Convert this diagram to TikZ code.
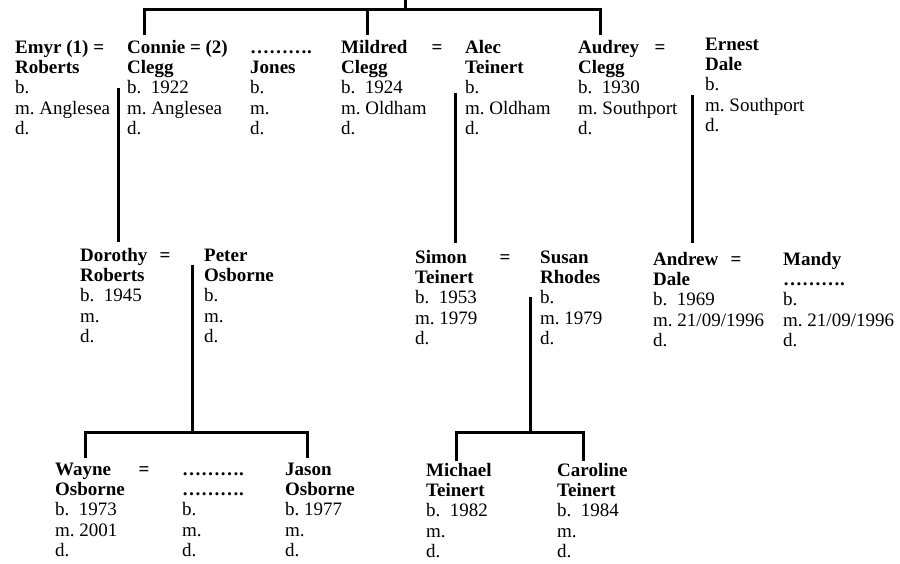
\documentclass[tikz,border=0pt]{standalone}
\usepackage{fontspec}
\setmainfont{Liberation Serif}
\frenchspacing
\newcommand{\persontab}[1]{\begin{tabular}[t]{@{}l@{}}#1\end{tabular}}

\begin{document}
\begin{tikzpicture}[x=1pt, y=-1pt,
    person/.style={anchor=base west, inner sep=0pt, font=\fontsize{19}{20.4}\selectfont},
    wed/.style={anchor=base, inner sep=0pt, font=\fontsize{19}{20.4}\selectfont\bfseries},
    link/.style={line width=3pt}]
    \useasboundingbox (0,0) rectangle (900,563);

    % first generation
    \node[person] (emyr) at (15,53) {\persontab{\textbf{Emyr (1) =}\\\textbf{Roberts}\\b.\\m. Anglesea\\d.}};
    \node[person] (connie) at (127,53) {\persontab{\textbf{Connie = (2)}\\\textbf{Clegg}\\b.\ \ 1922\\m. Anglesea\\d.}};
    \node[person] (jones) at (250,53) {\persontab{\textbf{……….}\\\textbf{Jones}\\b.\\m.\\d.}};
    \node[person] (mildred) at (341,53) {\persontab{\textbf{Mildred}\\\textbf{Clegg}\\b.\ \ 1924\\m. Oldham\\d.}};
    \node[wed] (eqmildred) at (437,53) {=};
    \node[person] (alec) at (465,53) {\persontab{\textbf{Alec}\\\textbf{Teinert}\\b.\\m. Oldham\\d.}};
    \node[person] (audrey) at (578,53) {\persontab{\textbf{Audrey}\\\textbf{Clegg}\\b.\ \ 1930\\m. Southport\\d.}};
    \node[wed] (eqaudrey) at (660,53) {=};
    \node[person] (ernest) at (705,50) {\persontab{\textbf{Ernest}\\\textbf{Dale}\\b.\\m. Southport\\d.}};

    % second generation
    \node[person] (dorothy) at (80,261) {\persontab{\textbf{Dorothy}\\\textbf{Roberts}\\b.\ \ 1945\\m.\\d.}};
    \node[wed] (eqdorothy) at (165,261) {=};
    \node[person] (peter) at (204,261) {\persontab{\textbf{Peter}\\\textbf{Osborne}\\b.\\m.\\d.}};
    \node[person] (simon) at (415,263) {\persontab{\textbf{Simon}\\\textbf{Teinert}\\b.\ \ 1953\\m. 1979\\d.}};
    \node[wed] (eqsimon) at (505,263) {=};
    \node[person] (susan) at (540,263) {\persontab{\textbf{Susan}\\\textbf{Rhodes}\\b.\\m. 1979\\d.}};
    \node[person] (andrew) at (653,265) {\persontab{\textbf{Andrew}\\\textbf{Dale}\\b.\ \ 1969\\m. 21/09/1996\\d.}};
    \node[wed] (eqandrew) at (736,265) {=};
    \node[person] (mandy) at (783,265) {\persontab{\textbf{Mandy}\\\textbf{……….}\\b.\\m. 21/09/1996\\d.}};

    % third generation
    \node[person] (wayne) at (55,475) {\persontab{\textbf{Wayne}\\\textbf{Osborne}\\b.\ \ 1973\\m. 2001\\d.}};
    \node[wed] (eqwayne) at (144,475) {=};
    \node[person] (waynewife) at (182,475) {\persontab{\textbf{……….}\\\textbf{……….}\\b.\\m.\\d.}};
    \node[person] (jason) at (285,475) {\persontab{\textbf{Jason}\\\textbf{Osborne}\\b. 1977\\m.\\d.}};
    \node[person] (michael) at (426,476) {\persontab{\textbf{Michael}\\\textbf{Teinert}\\b.\ \ 1982\\m.\\d.}};
    \node[person] (caroline) at (557,476) {\persontab{\textbf{Caroline}\\\textbf{Teinert}\\b.\ \ 1984\\m.\\d.}};

    % line ends
    \coordinate (root) at (405,0);
    \coordinate (rootbar) at (405,9);
    \coordinate (connietop) at ([xshift=17pt,yshift=4pt]connie.north west);
    \coordinate (mildredtop) at ([xshift=26pt,yshift=4pt]mildred.north west);
    \coordinate (audreytop) at ([xshift=22pt,yshift=4pt]audrey.north west);
    \coordinate (u1) at (118,88);
    \coordinate (u2) at (455,93);
    \coordinate (u3) at (692,95);
    \coordinate (u4) at (192,265);
    \coordinate (u5) at (530,297);
    \coordinate (bar4) at (192,432);
    \coordinate (bar5) at (530,432);
    \coordinate (dorothytop) at ([xshift=38pt,yshift=5pt]dorothy.north west);
    \coordinate (simontop) at ([xshift=40pt,yshift=6pt]simon.north west);
    \coordinate (andrewtop) at ([xshift=39pt,yshift=8pt]andrew.north west);
    \coordinate (waynetop) at ([xshift=30pt,yshift=3pt]wayne.north west);
    \coordinate (jasontop) at ([xshift=22pt,yshift=3pt]jason.north west);
    \coordinate (michaeltop) at ([xshift=30pt,yshift=1pt]michael.north west);
    \coordinate (carolinetop) at ([xshift=26pt,yshift=1pt]caroline.north west);

    % descent lines
    \draw[link] (root) -- (rootbar);
    \draw[link] (connietop) |- (rootbar) -| (audreytop);
    \draw[link] (mildredtop) -- (mildredtop |- rootbar);
    \draw[link] (u1) -- (dorothytop);
    \draw[link] (u2) -- (simontop);
    \draw[link] (u3) -- (andrewtop);
    \draw[link] (u4) -- (bar4);
    \draw[link] (waynetop) |- (bar4) -| (jasontop);
    \draw[link] (u5) -- (bar5);
    \draw[link] (michaeltop) |- (bar5) -| (carolinetop);
\end{tikzpicture}
\end{document}
